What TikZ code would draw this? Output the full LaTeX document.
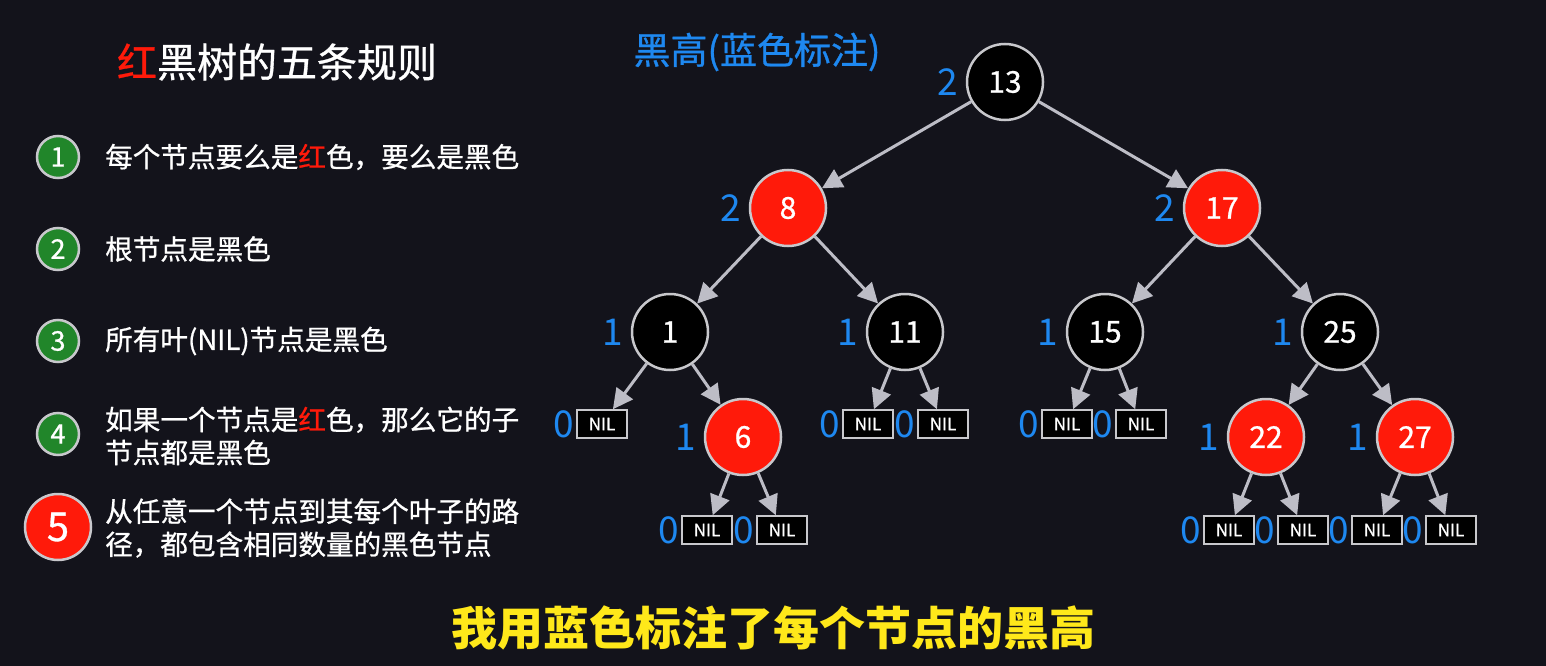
\documentclass[tikz,border=0pt]{standalone}
\usepackage{fontspec}
\usepackage{xcolor}
\setmainfont{Noto Sans CJK SC}
\newfontfamily\medfont{Noto Sans CJK SC}[FakeBold=0.8]
\usetikzlibrary{arrows.meta,positioning}
\definecolor{bgDark}{HTML}{13131B}
\definecolor{nodeRed}{HTML}{FF1A0A}
\definecolor{ringGray}{HTML}{C8C8CC}
\definecolor{arrowGray}{HTML}{BDBDC6}
\definecolor{heightBlue}{HTML}{1E88F0}
\definecolor{ruleGreen}{HTML}{21862A}
\definecolor{subYellow}{HTML}{FFE81A}
\newcommand{\fsz}[1]{\fontsize{#1}{#1}\selectfont}

\tikzset{
  rbnode/.style={circle, draw=ringGray, line width=2.5pt, minimum size=76pt,
                 inner sep=0pt, text=white, font=\medfont\fsz{30}},
  blacknode/.style={rbnode, fill=black},
  rednode/.style={rbnode, fill=nodeRed},
  nilbox/.style={draw=ringGray, fill=black, line width=1.5pt, minimum width=50pt,
                 minimum height=28pt, inner sep=0pt, text=white, font=\medfont\fsz{17}},
  bh/.style={text=heightBlue, font=\fsz{37}, inner sep=0pt},
  link/.style={draw=arrowGray, line width=3pt, -{Triangle[length=20pt,width=20pt]}},
  badge/.style={circle, fill=ruleGreen, draw=ringGray, line width=2.5pt,
                minimum size=42pt, inner sep=0pt, text=white, font=\medfont\fsz{27}},
  ruletext/.style={anchor=west, text=white, align=left, inner sep=0pt,
                   font=\medfont\fontsize{27.6}{33}\selectfont}
}

\begin{document}
\begin{tikzpicture}[x=1pt, y=-1pt]
  \useasboundingbox (0,0) rectangle (1546,666);
  \fill[bgDark] (0,0) rectangle (1546,666);

  % rules panel
  \node[text=white, font=\medfont\fsz{40}, inner sep=0pt] (title) at (277,62)
    {\textcolor{nodeRed}{红}黑树的五条规则};

  \node[badge] (b1) at (58,157) {1};
  \node[badge] (b2) at (58,249) {2};
  \node[badge] (b3) at (58,341) {3};
  \node[badge] (b4) at (58,434) {4};
  \node[badge, fill=nodeRed, minimum size=66pt, font=\medfont\fsz{40}] (b5) at (58,527) {5};

  \node[ruletext] (r1) at (105,157) {每个节点要么是\textcolor{nodeRed}{红}色，要么是黑色};
  \node[ruletext] (r2) at (105,249) {根节点是黑色};
  \node[ruletext] (r3) at (105,341) {所有叶(NIL)节点是黑色};
  \node[ruletext] (r4) at (105,436) {如果一个节点是\textcolor{nodeRed}{红}色，那么它的子\\节点都是黑色};
  \node[ruletext] (r5) at (105,528) {从任意一个节点到其每个叶子的路\\径，都包含相同数量的黑色节点};

  % tree
  \node[text=heightBlue, font=\medfont\fsz{37}, inner sep=0pt] (bhlabel) at (757,52) {黑高(蓝色标注)};

  \node[blacknode] (n13) at (1005,82) {13};
  \node[rednode] (n8) at (788,208) {8};
  \node[rednode] (n17) at (1222,208) {17};
  \node[blacknode] (n1) at (670,332) {1};
  \node[blacknode] (n11) at (905,332) {11};
  \node[blacknode] (n15) at (1105,332) {15};
  \node[blacknode] (n25) at (1340,332) {25};
  \node[rednode] (n6) at (743,437) {6};
  \node[rednode] (n22) at (1266,437) {22};
  \node[rednode] (n27) at (1415,437) {27};

  \node[nilbox] (nilA) at (602,424) {NIL};
  \node[nilbox] (nilB) at (707,530) {NIL};
  \node[nilbox] (nilC) at (782,530) {NIL};
  \node[nilbox] (nilD) at (868,424) {NIL};
  \node[nilbox] (nilE) at (943,424) {NIL};
  \node[nilbox] (nilF) at (1067,424) {NIL};
  \node[nilbox] (nilG) at (1141,424) {NIL};
  \node[nilbox] (nilH) at (1229,530) {NIL};
  \node[nilbox] (nilI) at (1303,530) {NIL};
  \node[nilbox] (nilJ) at (1377,530) {NIL};
  \node[nilbox] (nilK) at (1451,530) {NIL};

  % black heights
  \node[bh, left=8pt of n13] {2};
  \node[bh, left=8pt of n8] {2};
  \node[bh, left=8pt of n17] {2};
  \node[bh, left=8pt of n1] {1};
  \node[bh, left=8pt of n11] {1};
  \node[bh, left=8pt of n15] {1};
  \node[bh, left=8pt of n25] {1};
  \node[bh, left=8pt of n6] {1};
  \node[bh, left=8pt of n22] {1};
  \node[bh, left=8pt of n27] {1};
  \foreach \n in {nilA,nilB,nilC,nilD,nilE,nilF,nilG,nilH,nilI,nilJ,nilK}
    \node[bh, left=2pt of \n] {0};

  \draw[link] (n13) -- (n8);
  \draw[link] (n13) -- (n17);
  \draw[link] (n8) -- (n1);
  \draw[link] (n8) -- (n11);
  \draw[link] (n17) -- (n15);
  \draw[link] (n17) -- (n25);
  \draw[link] (n1) -- (nilA);
  \draw[link] (n1) -- (n6);
  \draw[link] (n6) -- (nilB);
  \draw[link] (n6) -- (nilC);
  \draw[link] (n11) -- (nilD);
  \draw[link] (n11) -- (nilE);
  \draw[link] (n15) -- (nilF);
  \draw[link] (n15) -- (nilG);
  \draw[link] (n25) -- (n22);
  \draw[link] (n25) -- (n27);
  \draw[link] (n22) -- (nilH);
  \draw[link] (n22) -- (nilI);
  \draw[link] (n27) -- (nilJ);
  \draw[link] (n27) -- (nilK);

  % subtitle
  \node[text=subYellow, font=\bfseries\fsz{46}, inner sep=0pt] (caption) at (773,628)
    {我用蓝色标注了每个节点的黑高};
\end{tikzpicture}
\end{document}
